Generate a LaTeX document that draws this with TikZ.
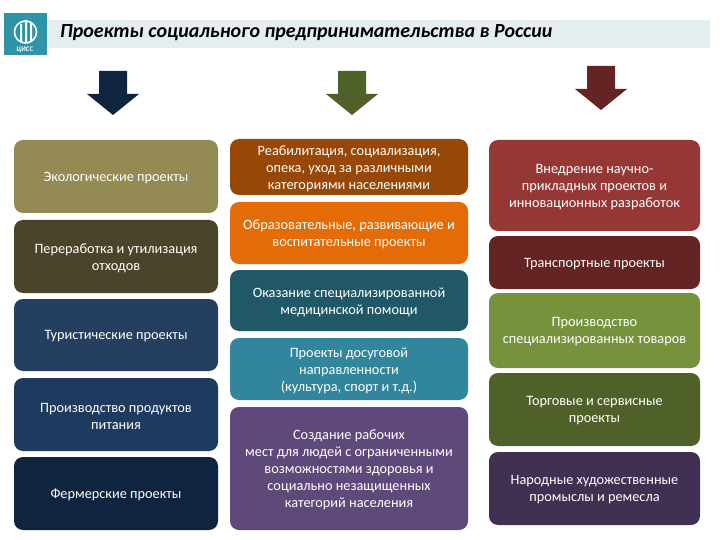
\documentclass[tikz,border=0pt]{standalone}
\usepackage{fontspec}
\setmainfont{Carlito}
\definecolor{cA}{HTML}{948A54}\definecolor{cB}{HTML}{4A452A}\definecolor{cC}{HTML}{243F60}\definecolor{cD}{HTML}{1F3A5F}\definecolor{cE}{HTML}{0F243E}
\definecolor{cF}{HTML}{974806}\definecolor{cG}{HTML}{E36C09}\definecolor{cH}{HTML}{215868}\definecolor{cI}{HTML}{31859C}\definecolor{cJ}{HTML}{5F497A}
\definecolor{cK}{HTML}{953735}\definecolor{cL}{HTML}{632423}\definecolor{cM}{HTML}{76923C}\definecolor{cN}{HTML}{4F6128}\definecolor{cO}{HTML}{403152}
\definecolor{band}{HTML}{E4EEF1}\definecolor{logoc}{HTML}{2E95A8}
\tikzset{
 cardbox/.style={text=white,align=center,inner sep=0pt,font=\fontsize{14.3}{17}\selectfont},
}
\newcommand{\card}[7]{% name, x0,y0,x1,y1,colour,text
 \fill[#6,rounded corners=9pt] (#2,#3) rectangle (#4,#5);
 \node[cardbox] (#1) at ({(#2+#4)/2},{(#3+#5)/2+1.5}) {#7};
}
\newcommand{\darr}[4]{% name, centre x, top y, colour
 \fill[#4] (#2-14,#3) -- (#2+14,#3) -- (#2+14,#3+23) -- (#2+26,#3+23) -- (#2,#3+44) -- (#2-26,#3+23) -- (#2-14,#3+23) -- cycle;
 \coordinate (#1) at (#2,#3);
}
\begin{document}
\begin{tikzpicture}[x=1pt,y=-1pt]
\useasboundingbox (0,0) rectangle (720,540);
\fill[white] (0,0) rectangle (720,540);
% title band and logo
\fill[band] (47,20) rectangle (710,48);
\fill[logoc] (4,13) rectangle (47,55);
\draw[white,line width=1.6pt] (25.5,32) circle (11);
\fill[white] (20,24) rectangle (22,42) (25,20) rectangle (27,42) (30,22) rectangle (32,42);
\node[text=white,inner sep=0pt,font=\fontsize{7}{7}\bfseries\selectfont] (logo) at (25,50) {ЦИСС};
\node[anchor=west,inner sep=0pt,font=\fontsize{20}{22}\bfseries\itshape\selectfont] (title) at (60,32.5) {Проекты социального предпринимательства в России};
% arrows
\darr{a1}{113}{71}{cE}
\darr{a2}{352}{71}{cN}
\darr{a3}{601}{66}{cL}
% left
\card{l1}{14}{140}{218}{213}{cA}{Экологические проекты}
\card{l2}{14}{220}{218}{293}{cB}{Переработка и утилизация\\отходов}
\card{l3}{14}{299}{218}{371}{cC}{Туристические проекты}
\card{l4}{14}{378}{218}{451}{cD}{Производство продуктов\\питания}
\card{l5}{14}{457}{218}{530}{cE}{Фермерские проекты}
% middle
\card{m1}{230}{139}{468}{195}{cF}{Реабилитация, социализация,\\опека, уход за различными\\категориями населениями}
\card{m2}{230}{202}{468}{264}{cG}{Образовательные, развивающие и\\воспитательные проекты}
\card{m3}{230}{270}{468}{331}{cH}{Оказание специализированной\\медицинской помощи}
\card{m4}{230}{338}{468}{400}{cI}{Проекты досуговой\\направленности\\(культура, спорт и т.д.)}
\card{m5}{230}{407}{468}{530}{cJ}{Создание рабочих\\мест для людей с ограниченными\\возможностями здоровья и\\социально незащищенных\\категорий населения}
% right
\card{r1}{489}{140}{700}{231}{cK}{Внедрение научно-\\прикладных проектов и\\инновационных разработок}
\card{r2}{489}{236}{700}{289}{cL}{Транспортные проекты}
\card{r3}{489}{293}{700}{368}{cM}{Производство\\специализированных товаров}
\card{r4}{489}{373}{700}{446}{cN}{Торговые и сервисные\\проекты}
\card{r5}{489}{452}{700}{525}{cO}{Народные художественные\\промыслы и ремесла}
\end{tikzpicture}
\end{document}
